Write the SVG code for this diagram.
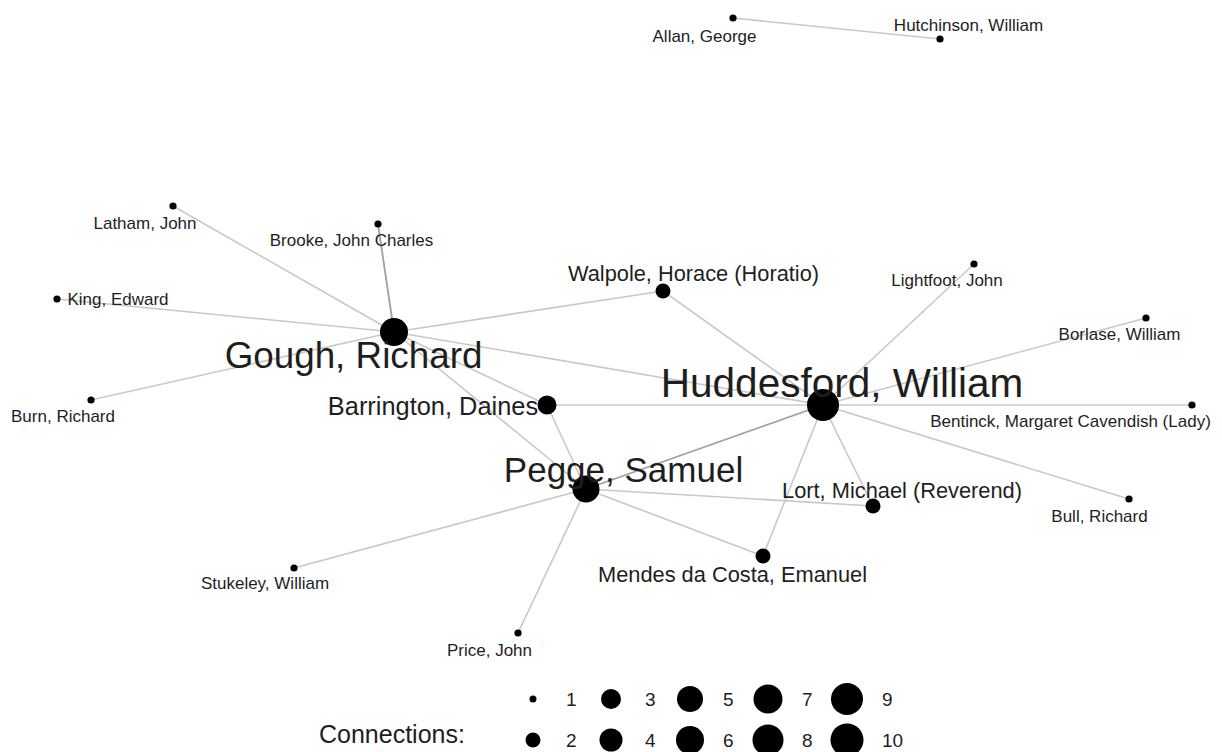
<svg xmlns="http://www.w3.org/2000/svg" width="1222" height="752" viewBox="0 0 1222 752">
<style>
.e{stroke:#c8c8c8;stroke-width:1.6;fill:none}
.e2{stroke:#a0a0a0;stroke-width:1.8;fill:none}
.n{fill:#000}
.t{font-family:"Liberation Sans",Arial,sans-serif;fill:#1e1e1e;text-anchor:middle}
.d1{font-size:17px}
.d2{font-size:21.8px}
.d3{font-size:25.4px}
.d7{font-size:35px}
.d8{font-size:36.8px}
.d10{font-size:40.5px}
.lg{font-family:"Liberation Sans",Arial,sans-serif;fill:#1e1e1e;font-size:19px}
</style>
<rect width="1222" height="752" fill="#fff"/>
<g id="connectors">
<line class="e" x1="733" y1="18" x2="940" y2="39"/>
<line class="e" x1="394" y1="332" x2="173" y2="206"/>
<line class="e2" x1="394" y1="332" x2="378" y2="224"/>
<line class="e" x1="394" y1="332" x2="57" y2="299"/>
<line class="e" x1="394" y1="332" x2="91" y2="400"/>
<line class="e" x1="394" y1="332" x2="663" y2="291"/>
<line class="e" x1="394" y1="332" x2="823" y2="405"/>
<line class="e" x1="394" y1="332" x2="547" y2="405"/>
<line class="e" x1="394" y1="332" x2="586" y2="489"/>
<line class="e" x1="663" y1="291" x2="823" y2="405"/>
<line class="e" x1="547" y1="405" x2="823" y2="405"/>
<line class="e" x1="547" y1="405" x2="586" y2="489"/>
<line class="e2" x1="586" y1="489" x2="823" y2="405"/>
<line class="e" x1="823" y1="405" x2="974" y2="264"/>
<line class="e" x1="823" y1="405" x2="1146" y2="318"/>
<line class="e" x1="823" y1="405" x2="1192" y2="405"/>
<line class="e" x1="823" y1="405" x2="1129" y2="499"/>
<line class="e" x1="823" y1="405" x2="873" y2="506"/>
<line class="e" x1="823" y1="405" x2="763" y2="556"/>
<line class="e" x1="586" y1="489" x2="873" y2="506"/>
<line class="e" x1="586" y1="489" x2="763" y2="556"/>
<line class="e" x1="586" y1="489" x2="294" y2="568"/>
<line class="e" x1="586" y1="489" x2="518" y2="633"/>
</g>
<g id="allan"><circle class="n" cx="733" cy="18" r="3.6"/><text class="t d1" x="704.5" y="42">Allan, George</text></g>
<g id="hutchinson"><circle class="n" cx="940" cy="39" r="3.6"/><text class="t d1" x="968.5" y="31">Hutchinson, William</text></g>
<g id="latham"><circle class="n" cx="173" cy="206" r="3.6"/><text class="t d1" x="145" y="229">Latham, John</text></g>
<g id="brooke"><circle class="n" cx="378" cy="224" r="3.6"/><text class="t d1" x="351.5" y="246">Brooke, John Charles</text></g>
<g id="king"><circle class="n" cx="57" cy="299" r="3.6"/><text class="t d1" x="118" y="305">King, Edward</text></g>
<g id="burn"><circle class="n" cx="91" cy="400" r="3.6"/><text class="t d1" x="63" y="422">Burn, Richard</text></g>
<g id="gough"><circle class="n" cx="394" cy="332" r="14"/><text class="t d8" x="353.5" y="368">Gough, Richard</text></g>
<g id="walpole"><circle class="n" cx="663" cy="291" r="7.5"/><text class="t d2" x="693.5" y="281">Walpole, Horace (Horatio)</text></g>
<g id="barrington"><circle class="n" cx="547" cy="405" r="9.5"/><text class="t d3" x="433" y="415">Barrington, Daines</text></g>
<g id="huddesford"><circle class="n" cx="823" cy="405" r="16"/><text class="t d10" x="842" y="397">Huddesford, William</text></g>
<g id="lightfoot"><circle class="n" cx="974" cy="264" r="3.6"/><text class="t d1" x="947" y="286">Lightfoot, John</text></g>
<g id="borlase"><circle class="n" cx="1146" cy="318" r="3.6"/><text class="t d1" x="1119.5" y="340">Borlase, William</text></g>
<g id="bentinck"><circle class="n" cx="1192" cy="405" r="3.6"/><text class="t d1" x="1070.5" y="427">Bentinck, Margaret Cavendish (Lady)</text></g>
<g id="bull"><circle class="n" cx="1129" cy="499" r="3.6"/><text class="t d1" x="1099.5" y="522">Bull, Richard</text></g>
<g id="pegge"><circle class="n" cx="586" cy="489" r="13.5"/><text class="t d7" x="623.5" y="482">Pegge, Samuel</text></g>
<g id="lort"><circle class="n" cx="873" cy="506" r="7.5"/><text class="t d2" x="902" y="498">Lort, Michael (Reverend)</text></g>
<g id="mendes"><circle class="n" cx="763" cy="556" r="7.5"/><text class="t d2" x="732.5" y="582">Mendes da Costa, Emanuel</text></g>
<g id="stukeley"><circle class="n" cx="294" cy="568" r="3.6"/><text class="t d1" x="265" y="589">Stukeley, William</text></g>
<g id="price"><circle class="n" cx="518" cy="633" r="3.6"/><text class="t d1" x="489.5" y="656">Price, John</text></g>
<g id="legend">
<text font-family="Liberation Sans, Arial, sans-serif" font-size="25px" fill="#1e1e1e" x="319" y="743">Connections:</text>
<circle class="n" cx="533" cy="699" r="3.5"/>
<circle class="n" cx="611" cy="699" r="10"/>
<circle class="n" cx="690" cy="699" r="13"/>
<circle class="n" cx="768" cy="699" r="14.5"/>
<circle class="n" cx="847" cy="699" r="16"/>
<circle class="n" cx="533" cy="740" r="7.5"/>
<circle class="n" cx="611" cy="740" r="11.5"/>
<circle class="n" cx="690" cy="740" r="14"/>
<circle class="n" cx="768" cy="740" r="15.5"/>
<circle class="n" cx="847" cy="740" r="16.5"/>
<text class="lg" x="566" y="706">1</text>
<text class="lg" x="645" y="706">3</text>
<text class="lg" x="723" y="706">5</text>
<text class="lg" x="802" y="706">7</text>
<text class="lg" x="882" y="706">9</text>
<text class="lg" x="566" y="747">2</text>
<text class="lg" x="645" y="747">4</text>
<text class="lg" x="723" y="747">6</text>
<text class="lg" x="802" y="747">8</text>
<text class="lg" x="882" y="747">10</text>
</g>
</svg>
